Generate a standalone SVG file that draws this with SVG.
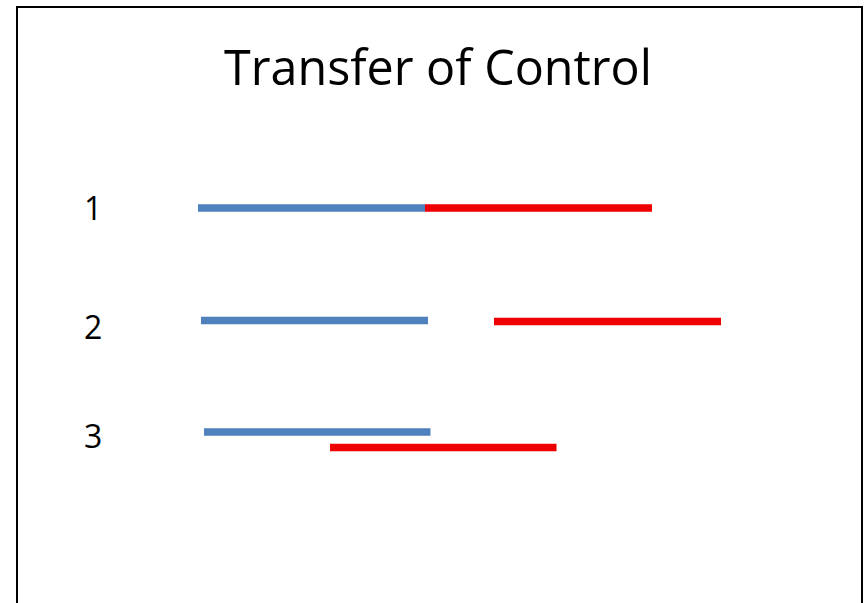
<svg xmlns="http://www.w3.org/2000/svg" width="865" height="603" viewBox="0 0 865 603">
<style>
.title{font-family:"Open Sans","Liberation Sans",sans-serif;font-size:50px;fill:#000}
.num{font-family:"Open Sans","Liberation Sans",sans-serif;font-size:32px;fill:#000}
.blue{stroke:#4f81bd;stroke-width:7.5;fill:none;stroke-linecap:butt}
.red{stroke:#ee0000;stroke-width:7.5;fill:none;stroke-linecap:butt}
</style>
<rect x="0" y="0" width="865" height="603" fill="#fff"/>
<rect x="17" y="7" width="845" height="620" fill="#fff" stroke="#000" stroke-width="2"/>
<g id="title"><text class="title" x="224" y="85" textLength="428" lengthAdjust="spacingAndGlyphs">Transfer of Control</text></g>
<g id="row1">
<text class="num" x="84" y="220">1</text>
<line class="blue" x1="198" y1="208" x2="425" y2="208"/>
<line class="red" x1="425" y1="208" x2="652" y2="208"/>
</g>
<g id="row2">
<text class="num" x="84" y="339">2</text>
<line class="blue" x1="201" y1="320.5" x2="428" y2="320.5"/>
<line class="red" x1="494" y1="321.5" x2="721" y2="321.5"/>
</g>
<g id="row3">
<text class="num" x="84" y="448">3</text>
<line class="blue" x1="204" y1="432" x2="430.5" y2="432"/>
<line class="red" x1="330" y1="447.5" x2="556.5" y2="447.5"/>
</g>
</svg>
